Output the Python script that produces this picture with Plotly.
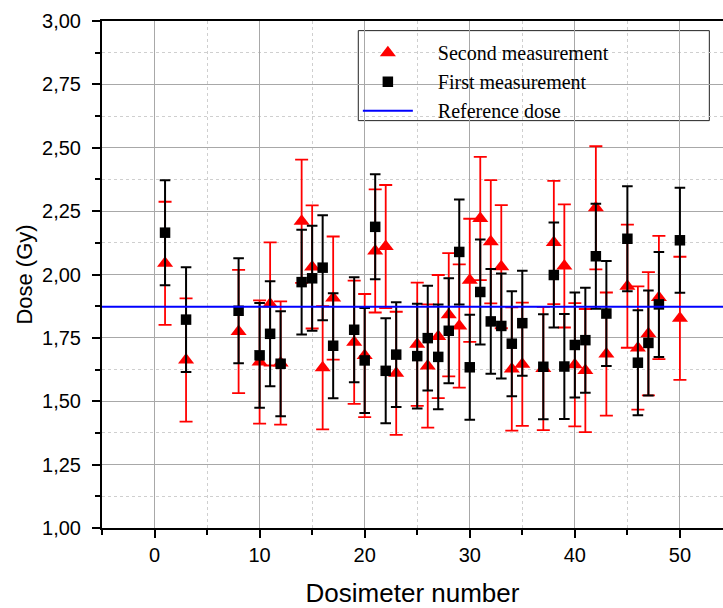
import plotly.graph_objects as go

# Dosimeter ids and measured doses (Gy)
dosimeter = [1, 3, 8, 10, 11, 12, 14, 15, 16, 17, 19, 20, 21, 22, 23, 25, 26, 27, 28,
             29, 30, 31, 32, 33, 34, 35, 37, 38, 39, 40, 41, 42, 43, 45, 46, 47, 48, 50]

first_measurement = [2.165, 1.822, 1.857, 1.681, 1.766, 1.648, 1.970, 1.985, 2.027,
                     1.719, 1.782, 1.661, 2.188, 1.620, 1.684, 1.678, 1.749, 1.675,
                     1.778, 2.089, 1.634, 1.931, 1.815, 1.797, 1.727, 1.808, 1.636,
                     1.998, 1.637, 1.722, 1.741, 2.072, 1.846, 2.141, 1.652, 1.730,
                     1.882, 2.135]

second_measurement = [2.044, 1.663, 1.775, 1.655, 1.884, 1.651, 2.210, 2.030, 1.632,
                      1.907, 1.733, 1.680, 2.093, 2.110, 1.610, 1.725, 1.639, 1.755,
                      1.841, 1.797, 1.977, 2.221, 2.129, 2.031, 1.627, 1.646, 1.629,
                      2.126, 2.034, 1.644, 1.621, 2.263, 1.686, 1.954, 1.710, 1.766,
                      1.909, 1.827]

first_uncertainty = 0.207
second_uncertainty = 0.243
reference_dose = 1.873

x_span = [-5, 54.1]
y_span = [1.0, 3.0]

# small gap between legend symbol and its label
pad = "\u00a0" * 4

fig = go.Figure()

fig.add_trace(go.Scatter(
    x=dosimeter, y=second_measurement, mode="markers", name=pad + "Second measurement",
    marker=dict(symbol="triangle-up", size=14, color="#ff0000"),
    error_y=dict(type="constant", value=second_uncertainty, color="#ff0000",
                 thickness=1.8, width=6.5),
))

fig.add_trace(go.Scatter(
    x=dosimeter, y=first_measurement, mode="markers", name=pad + "First measurement",
    marker=dict(symbol="square", size=10.5, color="#000000"),
    error_y=dict(type="constant", value=first_uncertainty, color="#000000",
                 thickness=2, width=5.3),
))

fig.add_trace(go.Scatter(
    x=x_span, y=[reference_dose, reference_dose], mode="lines", name=pad + "Reference dose",
    line=dict(color="#0000ff", width=2),
))

axis_common = dict(
    showline=True, linewidth=2, linecolor="#000000",
    ticks="outside", ticklen=8, tickwidth=2, tickcolor="#000000",
    showgrid=True, gridcolor="#a8a8a8", gridwidth=1,
    zeroline=False,
    tickfont=dict(family="Liberation Sans, Arial, sans-serif", size=20, color="#000000"),
)

fig.update_layout(
    width=723, height=608,
    margin=dict(l=102, r=0, t=21, b=80),
    paper_bgcolor="white", plot_bgcolor="white",
    separators=",.",
    font=dict(family="Liberation Sans, Arial, sans-serif", color="#000000"),
    xaxis=dict(
        range=x_span, tick0=0, dtick=10, mirror=True,
        minor=dict(dtick=5, tick0=0, ticks="outside", ticklen=5, tickwidth=1.5,
                   tickcolor="#000000", showgrid=True, gridcolor="#cfcfcf",
                   griddash="dot", gridwidth=1),
        title=dict(text="Dosimeter number", font=dict(size=26), standoff=20),
        **axis_common,
    ),
    yaxis=dict(
        range=y_span, tick0=1, dtick=0.25, tickformat=".2f", mirror=False,
        ticklabelstandoff=7,
        minor=dict(dtick=0.125, tick0=1, ticks="outside", ticklen=5, tickwidth=1.5,
                   tickcolor="#000000", showgrid=True, gridcolor="#cfcfcf",
                   griddash="dot", gridwidth=1),
        title=dict(text="Dose (Gy)", font=dict(size=22), standoff=3),
        **axis_common,
    ),
    showlegend=True,
    legend=dict(
        x=0.412, y=0.976, xanchor="left", yanchor="top",
        bgcolor="rgba(0,0,0,0)", borderwidth=0,
        font=dict(family="Liberation Serif, Times New Roman, serif", size=20,
                  color="#000000"),
        itemwidth=50,
    ),
    shapes=[dict(
        type="rect", xref="paper", yref="paper",
        x0=0.4127, x1=0.978, y0=0.8035, y1=0.981,
        line=dict(color="#222222", width=1), fillcolor="white", layer="between",
    )],
)

fig.write_html("out.html")
